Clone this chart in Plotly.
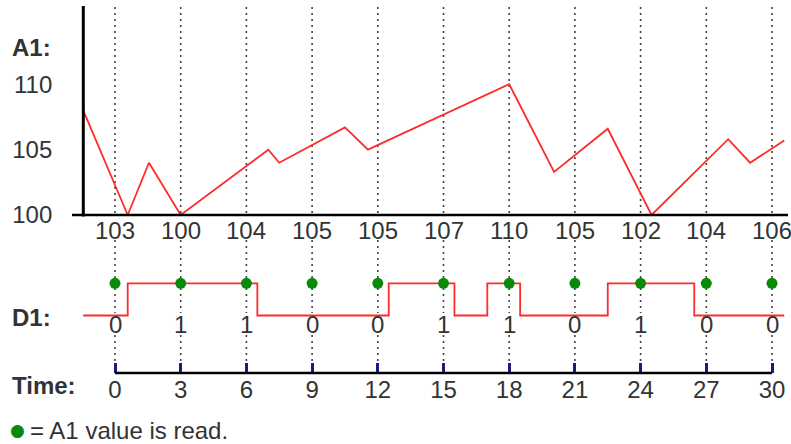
import plotly.graph_objects as go

# ---- data -------------------------------------------------------------
time_ticks = [0, 3, 6, 9, 12, 15, 18, 21, 24, 27, 30]

# analog input A1 (vertex times and values of the red trace)
a1_time = [-1.45, 0.58, 1.55, 3, 7, 7.5, 10.5, 11.55, 18, 20.05, 22.5, 24.5, 28, 29, 30.56]
a1_value = [108, 100, 104, 100, 105, 104, 106.7, 105, 110, 103.3, 106.6, 100, 105.8, 104, 105.7]

# A1 value sampled at each time tick
a1_read = [103, 100, 104, 105, 105, 107, 110, 105, 102, 104, 106]

# digital input D1 (edge times and levels)
d1_time = [-1.45, 0.58, 6.5, 12.5, 15.5, 17, 18.5, 22.5, 26.45, 30.56]
d1_level = [0, 1, 0, 1, 0, 1, 0, 1, 0, 0]

# D1 value sampled at each time tick
d1_read = [0, 1, 1, 0, 0, 1, 1, 0, 1, 0, 0]

a1_ticks = [100, 105, 110]

# ---- layout helpers --------------------------------------------------------
W, H = 791, 444
FONT = "Liberation Sans, Arial, sans-serif"
FS = 24
TXT = "#333333"
RED = "#ff2a2a"
GREEN = "#0a8a0a"


def py(pixel_y):
    """Convert a pixel row (from the top) into paper coordinates."""
    return 1 - pixel_y / H


def px(pixel_x):
    return pixel_x / W


fig = go.Figure()

# A1 trace
fig.add_trace(go.Scatter(
    x=a1_time, y=a1_value, mode="lines",
    line=dict(color=RED, width=1.8),
    yaxis="y", showlegend=False, hoverinfo="skip",
))

# D1 step trace
fig.add_trace(go.Scatter(
    x=d1_time, y=d1_level, mode="lines", line_shape="hv",
    line=dict(color=RED, width=1.8),
    yaxis="y2", showlegend=False, hoverinfo="skip",
))

# sampling points
fig.add_trace(go.Scatter(
    x=time_ticks, y=[1] * len(time_ticks), mode="markers",
    marker=dict(color=GREEN, size=11),
    yaxis="y2", showlegend=False, hoverinfo="skip",
))

shapes = []
# dotted guides through each sample time, broken around the value labels
for t in time_ticks:
    for y0, y1 in [(7, 217), (240, 313), (335, 363)]:
        shapes.append(dict(
            type="line", xref="x", yref="paper", x0=t, x1=t,
            y0=py(y0), y1=py(y1),
            line=dict(color="#444444", width=1.6, dash="2px,4px"),
            layer="below",
        ))

# A1 axes
shapes.append(dict(type="line", xref="paper", yref="paper",
                   x0=px(83.3), x1=px(83.3), y0=py(6), y1=py(216.5),
                   line=dict(color="black", width=3)))
shapes.append(dict(type="line", xref="paper", yref="y",
                   x0=px(72), x1=px(788), y0=a1_ticks[0], y1=a1_ticks[0],
                   line=dict(color="black", width=2.5)))
# time axis baseline
shapes.append(dict(type="line", xref="x", yref="paper",
                   x0=time_ticks[0], x1=time_ticks[-1], y0=py(373), y1=py(373),
                   line=dict(color="black", width=2.5)))

annotations = []
for t, v in zip(time_ticks, a1_read):
    annotations.append(dict(
        x=t, y=py(230), xref="x", yref="paper", text=str(v), showarrow=False,
        font=dict(family=FONT, size=FS, color=TXT), xanchor="center", yanchor="middle",
    ))
for t, v in zip(time_ticks, d1_read):
    annotations.append(dict(
        x=t, y=py(324), xref="x", yref="paper", text=str(v), showarrow=False,
        font=dict(family=FONT, size=FS, color=TXT), xanchor="center", yanchor="middle",
    ))

for label, ycen in [("A1:", 47), ("D1:", 317), ("Time:", 385)]:
    annotations.append(dict(
        x=px(10), y=py(ycen), xref="paper", yref="paper", text=f"<b>{label}</b>",
        showarrow=False, font=dict(family=FONT, size=FS, color=TXT),
        xanchor="left", yanchor="middle",
    ))

# key
annotations.append(dict(
    x=px(17.5), y=py(430), xref="paper", yref="paper", text="●",
    showarrow=False, font=dict(family="DejaVu Sans", size=17, color=GREEN),
    xanchor="center", yanchor="middle",
))
annotations.append(dict(
    x=px(28), y=py(430), xref="paper", yref="paper", text="= A1 value is read.",
    showarrow=False, font=dict(family=FONT, size=FS, color=TXT),
    xanchor="left", yanchor="middle",
))

t_lo = -115 / 21.9
t_hi = (W - 115) / 21.9

fig.update_layout(
    width=W, height=H,
    margin=dict(l=0, r=0, t=0, b=0),
    paper_bgcolor="white", plot_bgcolor="white",
    showlegend=False,
    xaxis=dict(
        range=[t_lo, t_hi], domain=[0, 1], anchor="free", position=py(373),
        tickvals=time_ticks, ticks="inside", ticklen=10, tickwidth=2.5,
        tickcolor="#1a1a80", showline=False, showgrid=False, zeroline=False,
        ticklabelstandoff=0,
        tickfont=dict(family=FONT, size=FS, color=TXT),
    ),
    yaxis=dict(
        range=[82.48, 116.45], domain=[0, 1], anchor="free", position=px(83.3),
        tickvals=a1_ticks, ticks="", showline=False, showgrid=False, zeroline=False,
        ticklabelstandoff=31,
        tickfont=dict(family=FONT, size=FS, color=TXT),
    ),
    yaxis2=dict(
        range=[-3.991, 9.798], domain=[0, 1], overlaying="y", visible=False,
    ),
    shapes=shapes,
    annotations=annotations,
)

fig.write_html("out.html")
